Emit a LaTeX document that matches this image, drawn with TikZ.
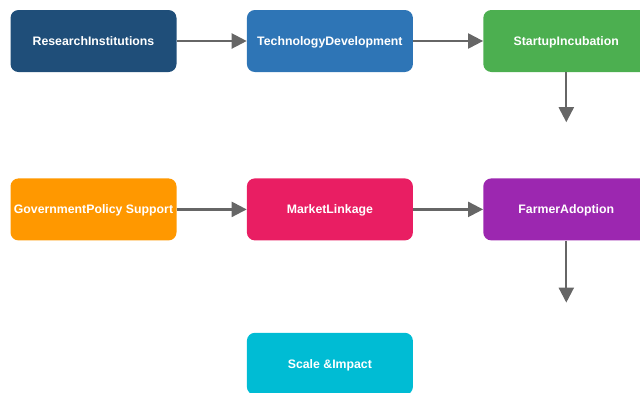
\documentclass[tikz,border=0pt]{standalone}
\usepackage{fontspec}
\setmainfont{Liberation Sans}
\usetikzlibrary{positioning,arrows.meta}
\definecolor{resblue}{HTML}{1F4E79}
\definecolor{techblue}{HTML}{2E75B6}
\definecolor{incgreen}{HTML}{4CAF50}
\definecolor{govorange}{HTML}{FF9800}
\definecolor{mktpink}{HTML}{E91E63}
\definecolor{farmpurple}{HTML}{9C27B0}
\definecolor{scalecyan}{HTML}{00BCD4}
\definecolor{flowgrey}{HTML}{666666}

\begin{document}
\begin{tikzpicture}[x=1pt, y=1pt, every node/.style={font=\bfseries\fontsize{12.3}{14}\selectfont}]
  \tikzset{
    stage/.style={rounded corners=8pt, text=white, minimum width=166pt, minimum height=62pt, align=center, inner sep=1pt, text depth=0pt},
    flow/.style={-{Triangle[length=15pt, width=15pt]}, line width=2.2pt, draw=flowgrey}
  }
  \useasboundingbox (0,0) rectangle (640,-392);
  \clip (0,0) rectangle (640,-392);

  % top row
  \node[stage, fill=resblue] (res) at (93.5,-41) {ResearchInstitutions};
  \node[stage, fill=techblue, right=70pt of res] (tech) {TechnologyDevelopment};
  \node[stage, fill=incgreen, right=70pt of tech] (inc) {StartupIncubation};

  % middle row
  \node[stage, fill=govorange, below=106pt of res] (gov) {GovernmentPolicy Support};
  \node[stage, fill=mktpink, right=70pt of gov] (mkt) {MarketLinkage};
  \node[stage, fill=farmpurple, right=70pt of mkt] (farm) {FarmerAdoption};

  % bottom
  \node[stage, fill=scalecyan, below=92pt of mkt] (scale) {Scale \&Impact};

  \coordinate[below=50pt of inc] (incend);
  \coordinate[below=62pt of farm] (farmend);

  \draw[flow] (res) -- (tech);
  \draw[flow] (tech) -- (inc);
  \draw[flow] (inc) -- (incend);
  \draw[flow] (gov) -- (mkt);
  \draw[flow] (mkt) -- (farm);
  \draw[flow] (farm) -- (farmend);
\end{tikzpicture}
\end{document}
